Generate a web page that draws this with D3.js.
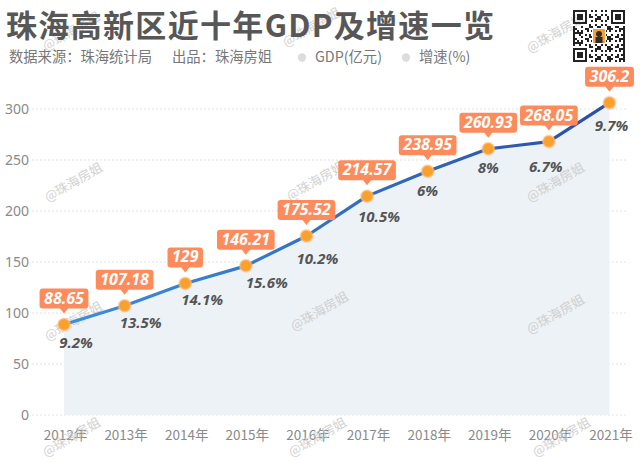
<!DOCTYPE html>
<html>
<head>
<meta charset="utf-8">
<script src="https://cdn.jsdelivr.net/npm/d3@7"></script>
<style>
  html, body { margin: 0; padding: 0; background: #fff; }
  svg { display: block; }
</style>
</head>
<body>
<svg id="chart" width="640" height="462"></svg>
<script>
// ---- data ----
const years = ['2012年','2013年','2014年','2015年','2016年','2017年','2018年','2019年','2020年','2021年'];
const gdp = [88.65, 107.18, 129, 146.21, 175.52, 214.57, 238.95, 260.93, 268.05, 306.2];
const gdpLabels = ['88.65','107.18','129','146.21','175.52','214.57','238.95','260.93','268.05','306.2'];
const growth = ['9.2%','13.5%','14.1%','15.6%','10.2%','10.5%','6%','8%','6.7%','9.7%'];
const yTicks = [0, 50, 100, 150, 200, 250, 300];
const legendItems = ['GDP(亿元)', '增速(%)'];

// ---- layout (not data) ----
const growthDx = [12, 16, 17, 21, 11, 12, 0, 0, -3, 2];
const growthDy = [23, 22, 22, 22, 28, 26, 25, 24, 30, 28];
const watermarks = [[72, 32], [312, 28], [556, 34], [74, 183], [316, 182], [556, 183],
                    [74, 322], [320, 312], [556, 315], [72, 438], [318, 438], [562, 438]];

const svg = d3.select('#chart');
const CJK = '"Noto Sans CJK SC", "Noto Sans", sans-serif';
const NUM = '"Noto Sans", "Noto Sans CJK SC", sans-serif';

const x = d3.scalePoint().domain(years).range([64, 609.5]);
const y = d3.scaleLinear().domain([0, 300]).range([415, 109]);

// gridlines
svg.append('g').selectAll('line').data(yTicks).join('line')
  .attr('x1', 32).attr('x2', 628)
  .attr('y1', d => y(d)).attr('y2', d => y(d))
  .attr('stroke', '#e2e2e2').attr('stroke-width', 1).attr('stroke-dasharray', '2,2');

// y axis labels
const yAxis = d3.axisLeft(y).tickValues(yTicks).tickSize(0).tickPadding(0);
const yg = svg.append('g').attr('transform', 'translate(29,0)').call(yAxis);
yg.select('.domain').remove();
yg.selectAll('text').attr('fill', '#8a8a8a').style('font', `14px ${NUM}`);

// x axis labels
const xAxis = d3.axisBottom(x).tickSize(0).tickPadding(0);
const xg = svg.append('g').attr('transform', 'translate(1,430)').call(xAxis);
xg.select('.domain').remove();
xg.selectAll('text').attr('fill', '#8a8a8a').style('font', `13.5px ${CJK}`);

// area
const pts = years.map((yr, i) => ({ yr, v: gdp[i], lab: gdpLabels[i], g: growth[i], i }));
svg.append('path').datum(pts)
  .attr('d', d3.area().x(d => x(d.yr)).y0(y(0)).y1(d => y(d.v)))
  .attr('fill', '#edf2f6');

// watermarks
svg.append('g').selectAll('text').data(watermarks).join('text')
  .attr('transform', d => `translate(${d[0]},${d[1]}) rotate(-30)`)
  .attr('text-anchor', 'middle').attr('dominant-baseline', 'middle')
  .attr('fill', '#c8c8c8').attr('opacity', 0.8)
  .style('font', `13px ${CJK}`)
  .text('@珠海房姐');

// line with gradient
const defs = svg.append('defs');
const grad = defs.append('linearGradient').attr('id', 'lg')
  .attr('gradientUnits', 'userSpaceOnUse')
  .attr('x1', x(years[0])).attr('x2', x(years[years.length - 1])).attr('y1', 0).attr('y2', 0);
grad.append('stop').attr('offset', 0).attr('stop-color', '#3d8fd9');
grad.append('stop').attr('offset', 1).attr('stop-color', '#2b4ea6');
svg.append('path').datum(pts)
  .attr('d', d3.line().x(d => x(d.yr)).y(d => y(d.v)))
  .attr('fill', 'none').attr('stroke', 'url(#lg)').attr('stroke-width', 3.2)
  .attr('stroke-linejoin', 'round');

// points
svg.append('g').selectAll('circle').data(pts).join('circle')
  .attr('cx', d => x(d.yr)).attr('cy', d => y(d.v)).attr('r', 6)
  .attr('fill', '#f9a12a').attr('stroke', 'rgba(255,190,140,0.55)').attr('stroke-width', 2);

// value label boxes
const boxes = svg.append('g').selectAll('g').data(pts).join('g')
  .attr('transform', d => `translate(${x(d.yr)},${y(d.v)})`);
boxes.each(function(d) {
  const g = d3.select(this);
  const t = g.append('text')
    .attr('text-anchor', 'middle').attr('x', 0).attr('y', -21)
    .attr('fill', '#fff')
    .style('font', `italic bold 16px ${NUM}`)
    .text(d.lab);
  const w = t.node().getComputedTextLength() + 9;
  const h = 20, bottom = -16;
  g.insert('path', 'text')
    .attr('d', `M${-w/2 + 3},${bottom - h} h${w - 6} a3,3 0 0 1 3,3 v${h - 6} a3,3 0 0 1 -3,3 ` +
               `H4 L0,${bottom + 5} L-4,${bottom} H${-w/2 + 3} a3,3 0 0 1 -3,-3 v${-(h - 6)} a3,3 0 0 1 3,-3 Z`)
    .attr('fill', '#fd8b5c');
});

// growth labels
svg.append('g').selectAll('text').data(pts).join('text')
  .attr('x', d => x(d.yr) + growthDx[d.i]).attr('y', d => y(d.v) + growthDy[d.i])
  .attr('text-anchor', 'middle').attr('fill', '#555')
  .style('font', `italic bold 15px ${NUM}`)
  .text(d => d.g);

// title
svg.append('text').attr('x', 6).attr('y', 37)
  .attr('fill', '#575757')
  .attr('textLength', 488).attr('lengthAdjust', 'spacing')
  .style('font', `bold 31px ${CJK}`)
  .text('珠海高新区近十年GDP及增速一览');

// subtitle
svg.append('text').attr('x', 9).attr('y', 62).attr('fill', '#777')
  .style('font', `14.3px ${CJK}`).text('数据来源：珠海统计局');
svg.append('text').attr('x', 172).attr('y', 62).attr('fill', '#777')
  .style('font', `14.3px ${CJK}`).text('出品：珠海房姐');

// legend
const legX = [302, 406];
const lg = svg.append('g').selectAll('g').data(legendItems).join('g')
  .attr('transform', (d, i) => `translate(${legX[i]},57.5)`);
lg.append('circle').attr('r', 4.2).attr('fill', '#dcdcdc');
lg.append('text').attr('x', 13).attr('y', 4.8).attr('fill', '#777')
  .style('font', `14.3px ${CJK}`).text(d => d);

// QR-like badge (decoration)
const qr = svg.append('g').attr('transform', 'translate(573,10)');
const N = 26, m = 2;
const cells = [];
for (let r = 0; r < N; r++) for (let c = 0; c < N; c++) {
  const inF = (rr, cc) => rr >= 0 && rr < 7 && cc >= 0 && cc < 7;
  let on;
  const f = [[r, c], [r, c - (N - 7)], [r - (N - 7), c]].find(p => inF(p[0], p[1]));
  if (f) {
    const [a, b] = f;
    on = (a === 0 || a === 6 || b === 0 || b === 6) || (a >= 2 && a <= 4 && b >= 2 && b <= 4);
  } else if ((r < 8 && (c < 8 || c >= N - 8)) || (r >= N - 8 && c < 8)) {
    on = false;
  } else {
    on = ((r * 7 + c * 11 + ((r * c) % 5) * 3) % 7) < 3;
  }
  if (on) cells.push([r, c]);
}
qr.selectAll('rect').data(cells).join('rect')
  .attr('x', d => d[1] * m).attr('y', d => d[0] * m)
  .attr('width', m).attr('height', m).attr('fill', '#222');
qr.append('rect').attr('x', 19).attr('y', 18).attr('width', 14).attr('height', 16).attr('fill', '#fff');
qr.append('rect').attr('x', 20).attr('y', 19).attr('width', 12).attr('height', 14).attr('fill', '#f2a43a');
qr.append('circle').attr('cx', 26).attr('cy', 24).attr('r', 3).attr('fill', '#3a2a22');
qr.append('rect').attr('x', 22.5).attr('y', 27).attr('width', 7).attr('height', 6).attr('fill', '#2b2b2b');
</script>
</body>
</html>
